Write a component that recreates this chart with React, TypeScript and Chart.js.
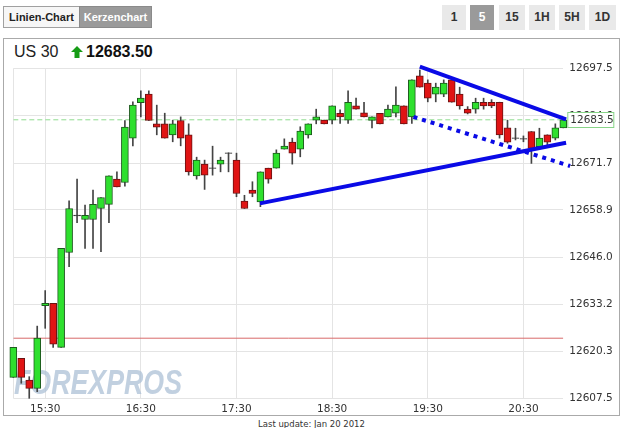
import React, { useEffect, useRef } from "react";
import { Chart, registerables } from "chart.js";
Chart.register(...registerables);

// 5-minute candles, index 0 = 15:10 ... index 69 = 20:55
const open = [
  12613.2, 12618.4, 12612.5, 12610.2, 12632.8, 12633.4, 12621.4, 12647.3, 12657.3, 12656.3,
  12656.3, 12659.3, 12660.4, 12667.3, 12666.4, 12678.5, 12688.2, 12690.5, 12682.4, 12682.4,
  12679.4, 12683.3, 12679.4, 12668.2, 12671.4, 12670.4, 12671.4, 12674.5, 12672.5, 12661.3,
  12664.3, 12661.1, 12670.3, 12670.3, 12675.5, 12677.4, 12675.5, 12679.4, 12683.4, 12683.4,
  12683.4, 12685.3, 12683.4, 12687.3, 12685.4, 12683.3, 12685.3, 12684.3, 12685.3, 12687.3,
  12684.3, 12695.5, 12693.5, 12690.5, 12690.5, 12694.4, 12690.5, 12686.4, 12686.4, 12688.3,
  12688.3, 12688.3, 12681.3, 12678.6, 12678.4, 12680.3, 12676.2, 12679.4, 12678.5, 12681.3,
];
const high = [
  12621.4, 12618.4, 12613.4, 12627.2, 12636.9, 12633.4, 12648.4, 12661.4, 12667.3, 12660.2,
  12664.3, 12662.3, 12668.2, 12669.3, 12683.3, 12688.4, 12691.4, 12691.4, 12687.5, 12685.3,
  12683.4, 12684.3, 12682.4, 12673.3, 12672.5, 12676.3, 12673.3, 12674.5, 12674.4, 12662.9,
  12666.6, 12669.3, 12670.3, 12675.3, 12678.3, 12678.5, 12681.6, 12682.4, 12686.4, 12683.4,
  12687.3, 12686.2, 12691.4, 12689.4, 12688.3, 12684.3, 12685.3, 12687.5, 12692.5, 12687.3,
  12694.4, 12697.1, 12694.4, 12693.5, 12694.4, 12694.8, 12692.4, 12687.1, 12689.4, 12689.4,
  12689.0, 12688.3, 12683.4, 12681.2, 12679.1, 12680.3, 12681.2, 12679.4, 12682.4, 12684.2,
];
const low = [
  12613.2, 12611.6, 12607.5, 12609.3, 12626.6, 12621.4, 12621.4, 12643.4, 12655.4, 12648.4,
  12648.4, 12647.5, 12655.4, 12665.2, 12665.4, 12676.4, 12684.3, 12683.3, 12679.4, 12678.5,
  12677.5, 12676.4, 12668.4, 12667.3, 12664.5, 12668.4, 12669.3, 12669.3, 12662.5, 12659.3,
  12662.5, 12659.8, 12666.2, 12670.3, 12675.5, 12671.4, 12673.4, 12678.5, 12682.4, 12682.4,
  12682.4, 12682.5, 12682.5, 12686.4, 12684.3, 12681.3, 12682.4, 12684.3, 12684.3, 12682.4,
  12682.5, 12692.4, 12688.4, 12688.4, 12689.8, 12688.3, 12686.4, 12685.1, 12685.3, 12686.4,
  12686.8, 12678.5, 12677.1, 12678.0, 12677.5, 12671.6, 12676.2, 12676.2, 12678.0, 12681.3,
];
const close = [
  12621.4, 12613.2, 12610.2, 12623.9, 12633.4, 12622.3, 12648.4, 12659.3, 12657.5, 12657.4,
  12660.4, 12662.3, 12668.2, 12665.2, 12681.5, 12687.5, 12689.4, 12683.3, 12681.5, 12678.5,
  12682.4, 12678.5, 12669.3, 12672.5, 12668.4, 12670.2, 12672.5, 12674.3, 12663.4, 12659.3,
  12663.4, 12669.3, 12667.3, 12674.4, 12676.3, 12674.4, 12680.4, 12682.4, 12684.3, 12682.4,
  12687.3, 12684.3, 12688.3, 12686.4, 12684.3, 12684.3, 12682.4, 12686.4, 12687.5, 12682.4,
  12694.4, 12692.4, 12689.4, 12692.4, 12693.5, 12688.3, 12687.3, 12685.3, 12688.3, 12687.3,
  12687.3, 12679.4, 12677.4, 12678.4, 12678.2, 12675.7, 12678.5, 12677.4, 12681.3, 12683.5,
];

const xTickIndex = [4, 16, 28, 40, 52, 64];
const xTickLabels = ["15:30", "16:30", "17:30", "18:30", "19:30", "20:30"];
const yTickLabels = ["12607.5", "12620.3", "12633.2", "12646.0", "12658.9", "12671.7", "12684.6", "12697.5"];
const yMin = 12607.5;
const yMax = 12697.5;
const lastPrice = 12683.5;
const lastPriceLabel = "12683.5";
const supportLevel = 12623.9;

// hand-drawn trend lines (x in candle index units)
const trendLowerSolid = [{ x: 30.95, y: 12660.7 }, { x: 69.35, y: 12677.25 }];
const trendUpperSolid = [{ x: 51.0, y: 12698.0 }, { x: 69.35, y: 12683.6 }];
const trendDotted = [{ x: 50.2, y: 12684.3 }, { x: 69.85, y: 12670.9 }];

const W = 623;
const H = 428;

export default function App() {
  const ref = useRef<HTMLCanvasElement | null>(null);

  useEffect(() => {
    const canvas = ref.current;
    if (!canvas) return;
    const idx = open.map((_, i) => i);
    const bodyFill = idx.map((i) =>
      Math.abs(close[i] - open[i]) < 0.35 ? "#333333" : close[i] > open[i] ? "#2ee02e" : "#e01414"
    );
    const bodyBorder = idx.map((i) =>
      Math.abs(close[i] - open[i]) < 0.35 ? "#333333" : close[i] > open[i] ? "#1d5a1d" : "#6a1212"
    );

    const overlay = {
      id: "overlay",
      beforeDatasetsDraw(chart: any) {
        const ctx = chart.ctx;
        ctx.save();
        ctx.font = 'italic bold 35px "Liberation Sans"';
        const text = "FOREXPROS";
        const w = ctx.measureText(text).width;
        const target = 168;
        ctx.translate(14, 394);
        ctx.scale(target / w, 1);
        ctx.fillStyle = "rgba(172,192,214,0.75)";
        ctx.textBaseline = "alphabetic";
        ctx.fillText(text, 0, 0);
        ctx.restore();
      },
      afterDraw(chart: any) {
        const ctx = chart.ctx;
        const y = chart.scales.y.getPixelForValue(lastPrice);
        const x = chart.chartArea.right + 4;
        ctx.save();
        ctx.fillStyle = "#ffffff";
        ctx.fillRect(x, Math.round(y) - 7.5, 46, 15);
        ctx.strokeStyle = "#88d488";
        ctx.lineWidth = 1;
        ctx.strokeRect(x + 0.5, Math.round(y) - 7.5, 46, 15);
        ctx.fillStyle = "#333333";
        ctx.font = '10.5px "DejaVu Sans"';
        ctx.textBaseline = "middle";
        ctx.fillText(lastPriceLabel, x + 3, Math.round(y) + 0.5);
        ctx.restore();
      },
    };

    const chart = new Chart(canvas, {
      type: "bar",
      data: {
        datasets: [
          {
            type: "line",
            data: [{ x: 0, y: lastPrice }, { x: 69, y: lastPrice }],
            borderColor: "#8fdc8f",
            borderWidth: 1,
            borderDash: [5, 3],
            pointRadius: 0,
            order: 6,
          } as any,
          {
            type: "line",
            data: [{ x: 0, y: supportLevel }, { x: 69, y: supportLevel }],
            borderColor: "#d86a6a",
            borderWidth: 1,
            pointRadius: 0,
            order: 6,
          } as any,
          {
            type: "bar",
            data: idx.map((i) => ({ x: i, y: [low[i], high[i]] })),
            backgroundColor: "#444444",
            borderWidth: 0,
            barThickness: 1,
            grouped: false,
            clip: false,
            order: 5,
          } as any,
          {
            type: "bar",
            data: idx.map((i) => ({ x: i, y: [open[i], close[i]] })),
            backgroundColor: bodyFill,
            borderColor: bodyBorder,
            borderWidth: 1,
            borderSkipped: false,
            barThickness: 7,
            grouped: false,
            clip: false,
            order: 4,
          } as any,
          {
            type: "line",
            data: trendLowerSolid,
            borderColor: "#0a0ae6",
            borderWidth: 4,
            pointRadius: 0,
            clip: false,
            order: 1,
          } as any,
          {
            type: "line",
            data: trendUpperSolid,
            borderColor: "#0a0ae6",
            borderWidth: 4,
            pointRadius: 0,
            clip: false,
            order: 1,
          } as any,
          {
            type: "line",
            data: trendDotted,
            borderColor: "#0a0ae6",
            borderWidth: 4,
            borderDash: [4, 5],
            pointRadius: 0,
            clip: false,
            order: 1,
          } as any,
        ],
      },
      options: {
        responsive: false,
        animation: false,
        events: [],
        layout: { padding: { left: 13.3, top: 68.5, right: 0, bottom: 0 } },
        plugins: { legend: { display: false }, tooltip: { enabled: false } },
        scales: {
          x: {
            type: "linear",
            position: "bottom",
            offset: false,
            min: 0,
            max: 69,
            afterFit: (s: any) => {
              s.height = 29.7;
            },
            afterBuildTicks: (s: any) => {
              s.ticks = [0, ...xTickIndex].map((v) => ({ value: v }));
            },
            grid: { color: "#e4e4e4", drawTicks: false, offset: false },
            border: { display: false },
            ticks: {
              autoSkip: false,
              maxRotation: 0,
              padding: 5,
              color: "#333333",
              font: { family: "DejaVu Sans", size: 10.5 },
              callback: (v: any) => {
                const k = xTickIndex.indexOf(Number(v));
                return k >= 0 ? xTickLabels[k] : "";
              },
            },
          },
          y: {
            type: "linear",
            position: "right",
            min: yMin,
            max: yMax,
            afterFit: (s: any) => {
              s.width = 59.7;
            },
            afterBuildTicks: (s: any) => {
              s.ticks = yTickLabels.map((t) => ({ value: parseFloat(t) }));
            },
            grid: { color: "#e4e4e4", drawTicks: false },
            border: { display: false },
            ticks: {
              padding: 6,
              color: "#333333",
              font: { family: "DejaVu Sans", size: 10.5 },
              callback: (v: any) => {
                let best = yTickLabels[0];
                let bd = Infinity;
                for (const t of yTickLabels) {
                  const d = Math.abs(parseFloat(t) - Number(v));
                  if (d < bd) {
                    bd = d;
                    best = t;
                  }
                }
                return best;
              },
            },
          },
        },
      },
      plugins: [overlay],
    } as any);
    return () => chart.destroy();
  }, []);

  const btn = (left: number, width: number, label: string, active: boolean, top: number, height: number, extra: any = {}) => (
    <div
      style={{
        position: "absolute",
        left,
        top,
        width,
        height,
        background: active ? "#9a9a9a" : "#e9e9e9",
        color: active ? "#ffffff" : "#333333",
        fontFamily: '"Liberation Sans", Arial, sans-serif',
        fontWeight: "bold",
        fontSize: 12,
        lineHeight: height + "px",
        textAlign: "center",
        boxSizing: "border-box",
        ...extra,
      }}
    >
      {label}
    </div>
  );

  return (
    <div
      style={{
        position: "fixed",
        left: 0,
        top: 0,
        width: W,
        height: H,
        background: "#ffffff",
        overflow: "hidden",
      }}
    >
      {btn(3, 77, "Linien-Chart", false, 6, 22, { background: "#f6f6f6", border: "1px solid #a0a0a0", color: "#222", fontSize: 11, lineHeight: "20px" })}
      {btn(79, 73, "Kerzenchart", true, 6, 22, { border: "1px solid #8a8a8a", fontSize: 11, lineHeight: "20px" })}
      {btn(442, 24, "1", false, 5, 25)}
      {btn(470, 24, "5", true, 5, 25)}
      {btn(499, 26, "15", false, 5, 25)}
      {btn(529, 26, "1H", false, 5, 25)}
      {btn(559, 26, "5H", false, 5, 25)}
      {btn(589, 27, "1D", false, 5, 25)}

      <div
        style={{
          position: "absolute",
          left: 3,
          top: 38,
          width: 617,
          height: 378,
          border: "1px solid #aaaaaa",
          boxSizing: "border-box",
        }}
      />
      <div
        style={{
          position: "absolute",
          left: 14,
          top: 43,
          fontFamily: '"Liberation Sans", Arial, sans-serif',
          fontSize: 16,
          color: "#222",
          whiteSpace: "nowrap",
          lineHeight: "18px",
        }}
      >
        US 30
      </div>
      <svg style={{ position: "absolute", left: 71, top: 46 }} width="12" height="12" viewBox="0 0 12 12">
        <polygon points="6,0 12,6 8.5,6 8.5,12 3.5,12 3.5,6 0,6" fill="#169c16" />
      </svg>
      <div
        style={{
          position: "absolute",
          left: 86,
          top: 43,
          fontFamily: '"Liberation Sans", Arial, sans-serif',
          fontSize: 16,
          fontWeight: "bold",
          color: "#111",
          whiteSpace: "nowrap",
          lineHeight: "18px",
        }}
      >
        12683.50
      </div>
      <div
        style={{
          position: "absolute",
          left: 0,
          width: W,
          top: 419,
          textAlign: "center",
          fontFamily: '"DejaVu Sans", Verdana, sans-serif',
          fontSize: 8.5,
          color: "#333",
          whiteSpace: "nowrap",
        }}
      >
        Last update: Jan 20 2012
      </div>
      <canvas
        ref={ref}
        width={W}
        height={H}
        style={{ position: "absolute", left: 0, top: 0, width: W, height: H }}
      />
    </div>
  );
}
